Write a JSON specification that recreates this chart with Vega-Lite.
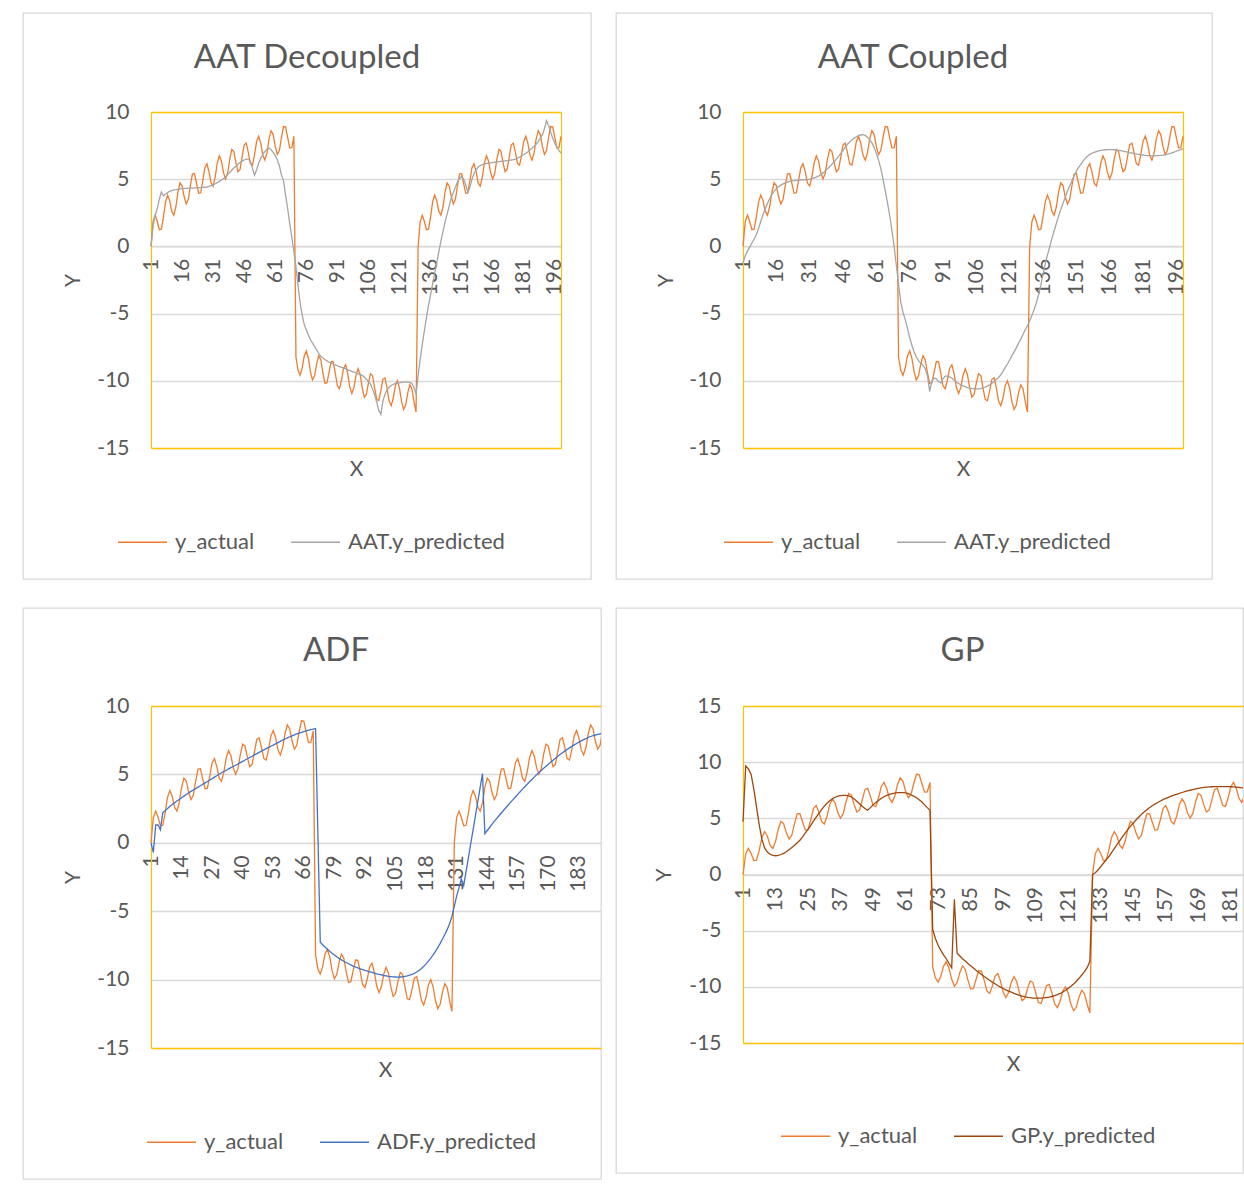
{
"$schema": "https://vega.github.io/schema/vega-lite/v6.json",
"padding": {"left": 22, "top": 12, "right": 0, "bottom": 0},
"autosize": {"type": "pad"},
"background": "white",
"config": {
  "font": "Lato",
  "view": {"stroke": "#D9D9D9", "strokeWidth": 1.3},
  "axis": {"labelFontSize": 21, "labelColor": "#595959", "labelFont": "Lato", "titleFont": "Lato", "titleFontSize": 21, "titleColor": "#595959", "titleFontWeight": "normal", "ticks": false, "tickSize": 0, "labelOverlap": false, "labelBound": false, "labelFlush": false},
  "legend": {"direction": "horizontal", "symbolType": "stroke", "symbolSize": 2401, "symbolStrokeWidth": 1.3, "labelFontSize": 22, "labelColor": "#595959", "labelFont": "Lato", "labelOffset": 7, "columnPadding": 33, "padding": 0},
  "title": {"fontSize": 33, "color": "#595959", "fontWeight": "normal", "font": "Lato", "anchor": "middle", "baseline": "middle", "offset": -62}
},
"datasets": {"s": [
{"x":1,"a":0,"d":0,"c":-1.24,"f":0,"g":4.7},
{"x":2,"a":1.84,"d":1.5,"c":-0.7,"f":-0.7,"g":9.65},
{"x":3,"a":2.32,"d":2.3,"c":-0.35,"f":1.3,"g":9.4},
{"x":4,"a":1.87,"d":2.8,"c":-0.05,"f":1.3,"g":8.9},
{"x":5,"a":1.24,"d":3.5,"c":0.25,"f":0.95,"g":7.6},
{"x":6,"a":1.28,"d":4.05,"c":0.55,"f":2.2,"g":6.0},
{"x":7,"a":2.17,"d":3.75,"c":0.87,"f":2.35,"g":4.4},
{"x":8,"a":3.30,"d":3.9,"c":1.35,"f":2.5,"g":3.1},
{"x":9,"a":3.82,"d":4.0,"c":1.85,"f":2.65,"g":2.35},
{"x":10,"a":3.41,"d":4.1,"c":2.36,"f":2.8,"g":2.0},
{"x":11,"a":2.62,"d":4.15,"c":2.8,"f":2.92,"g":1.8},
{"x":12,"a":2.32,"d":4.2,"c":3.2,"f":3.05,"g":1.7},
{"x":13,"a":2.93,"d":4.22,"c":3.55,"f":3.17,"g":1.67},
{"x":14,"a":4.03,"d":4.25,"c":3.88,"f":3.29,"g":1.7},
{"x":15,"a":4.73,"d":4.28,"c":4.1,"f":3.41,"g":1.78},
{"x":16,"a":4.52,"d":4.3,"c":4.3,"f":3.53,"g":1.88},
{"x":17,"a":3.71,"d":4.31,"c":4.45,"f":3.64,"g":2.02},
{"x":18,"a":3.16,"d":4.32,"c":4.56,"f":3.76,"g":2.21},
{"x":19,"a":3.49,"d":4.33,"c":4.65,"f":3.86,"g":2.4},
{"x":20,"a":4.51,"d":4.33,"c":4.73,"f":3.96,"g":2.6},
{"x":21,"a":5.39,"d":4.34,"c":4.79,"f":4.07,"g":2.82},
{"x":22,"a":5.42,"d":4.35,"c":4.84,"f":4.17,"g":3.05},
{"x":23,"a":4.68,"d":4.36,"c":4.88,"f":4.28,"g":3.35},
{"x":24,"a":3.95,"d":4.37,"c":4.9,"f":4.38,"g":3.7},
{"x":25,"a":3.99,"d":4.38,"c":4.92,"f":4.48,"g":4.02},
{"x":26,"a":4.87,"d":4.39,"c":4.93,"f":4.59,"g":4.38},
{"x":27,"a":5.86,"d":4.4,"c":4.94,"f":4.69,"g":4.75},
{"x":28,"a":6.15,"d":4.41,"c":4.95,"f":4.8,"g":5.1},
{"x":29,"a":5.56,"d":4.46,"c":4.96,"f":4.9,"g":5.45},
{"x":30,"a":4.72,"d":4.52,"c":4.97,"f":5.01,"g":5.78},
{"x":31,"a":4.49,"d":4.58,"c":5.0,"f":5.12,"g":6.08},
{"x":32,"a":5.16,"d":4.66,"c":5.04,"f":5.21,"g":6.35},
{"x":33,"a":6.21,"d":4.74,"c":5.1,"f":5.3,"g":6.56},
{"x":34,"a":6.74,"d":4.84,"c":5.16,"f":5.4,"g":6.74},
{"x":35,"a":6.36,"d":4.94,"c":5.23,"f":5.49,"g":6.88},
{"x":36,"a":5.49,"d":5.03,"c":5.34,"f":5.58,"g":6.98},
{"x":37,"a":5.01,"d":5.18,"c":5.47,"f":5.67,"g":7.03},
{"x":38,"a":5.44,"d":5.34,"c":5.62,"f":5.76,"g":7.05},
{"x":39,"a":6.46,"d":5.5,"c":5.77,"f":5.86,"g":7.04},
{"x":40,"a":7.21,"d":5.67,"c":5.93,"f":5.95,"g":7.0},
{"x":41,"a":7.07,"d":5.83,"c":6.1,"f":6.05,"g":6.9},
{"x":42,"a":6.24,"d":5.97,"c":6.3,"f":6.14,"g":6.72},
{"x":43,"a":5.56,"d":6.12,"c":6.5,"f":6.24,"g":6.52},
{"x":44,"a":5.73,"d":6.26,"c":6.7,"f":6.33,"g":6.3},
{"x":45,"a":6.65,"d":6.35,"c":6.93,"f":6.43,"g":6.08},
{"x":46,"a":7.56,"d":6.43,"c":7.15,"f":6.52,"g":5.88},
{"x":47,"a":7.68,"d":6.5,"c":7.38,"f":6.61,"g":5.72},
{"x":48,"a":6.98,"d":6.5,"c":7.6,"f":6.7,"g":5.95},
{"x":49,"a":6.16,"d":6.35,"c":7.78,"f":6.79,"g":6.2},
{"x":50,"a":6.05,"d":5.8,"c":7.93,"f":6.88,"g":6.4},
{"x":51,"a":6.81,"d":5.3,"c":8.06,"f":6.97,"g":6.58},
{"x":52,"a":7.81,"d":5.7,"c":8.16,"f":7.06,"g":6.76},
{"x":53,"a":8.20,"d":6.2,"c":8.24,"f":7.14,"g":6.92},
{"x":54,"a":7.68,"d":6.55,"c":8.29,"f":7.23,"g":7.04},
{"x":55,"a":6.79,"d":6.85,"c":8.31,"f":7.32,"g":7.13},
{"x":56,"a":6.42,"d":7.05,"c":8.26,"f":7.41,"g":7.2},
{"x":57,"a":6.96,"d":7.25,"c":8.13,"f":7.5,"g":7.25},
{"x":58,"a":7.99,"d":7.3,"c":7.95,"f":7.59,"g":7.28},
{"x":59,"a":8.61,"d":7.2,"c":7.7,"f":7.67,"g":7.29},
{"x":60,"a":8.32,"d":7.0,"c":7.35,"f":7.75,"g":7.28},
{"x":61,"a":7.44,"d":6.75,"c":6.95,"f":7.82,"g":7.26},
{"x":62,"a":6.84,"d":6.45,"c":6.4,"f":7.89,"g":7.2},
{"x":63,"a":7.13,"d":6.0,"c":5.8,"f":7.96,"g":7.1},
{"x":64,"a":8.10,"d":5.3,"c":5.0,"f":8.02,"g":6.98},
{"x":65,"a":8.92,"d":4.9,"c":4.15,"f":8.08,"g":6.83},
{"x":66,"a":8.89,"d":3.8,"c":3.25,"f":8.13,"g":6.65},
{"x":67,"a":8.10,"d":2.8,"c":2.3,"f":8.18,"g":6.45},
{"x":68,"a":7.33,"d":1.7,"c":1.2,"f":8.23,"g":6.2},
{"x":69,"a":7.35,"d":0.7,"c":0.0,"f":8.27,"g":5.95},
{"x":70,"a":8.19,"d":-0.4,"c":-1.4,"f":8.31,"g":5.72},
{"x":71,"a":-8.23,"d":-1.5,"c":-2.8,"f":8.35,"g":-4.9},
{"x":72,"a":-9.22,"d":-2.9,"c":-4.15,"f":0.5,"g":-5.7},
{"x":73,"a":-9.59,"d":-4.2,"c":-4.9,"f":-7.27,"g":-6.3},
{"x":74,"a":-9.05,"d":-5.1,"c":-5.45,"f":-7.45,"g":-6.75},
{"x":75,"a":-8.15,"d":-5.8,"c":-6.1,"f":-7.62,"g":-7.15},
{"x":76,"a":-7.78,"d":-6.2,"c":-6.8,"f":-7.79,"g":-7.5},
{"x":77,"a":-8.32,"d":-6.6,"c":-7.35,"f":-7.93,"g":-7.9},
{"x":78,"a":-9.33,"d":-6.95,"c":-7.85,"f":-8.07,"g":-8.3},
{"x":79,"a":-9.94,"d":-7.2,"c":-8.25,"f":-8.2,"g":-2.2},
{"x":80,"a":-9.63,"d":-7.45,"c":-8.5,"f":-8.33,"g":-7.0},
{"x":81,"a":-8.74,"d":-7.7,"c":-8.7,"f":-8.45,"g":-7.25},
{"x":82,"a":-8.14,"d":-7.95,"c":-8.85,"f":-8.56,"g":-7.5},
{"x":83,"a":-8.43,"d":-8.18,"c":-9.1,"f":-8.66,"g":-7.7},
{"x":84,"a":-9.40,"d":-8.3,"c":-9.6,"f":-8.75,"g":-7.92},
{"x":85,"a":-10.20,"d":-8.42,"c":-10.8,"f":-8.84,"g":-8.13},
{"x":86,"a":-10.15,"d":-8.52,"c":-10.0,"f":-8.93,"g":-8.33},
{"x":87,"a":-9.35,"d":-8.62,"c":-9.8,"f":-9.01,"g":-8.53},
{"x":88,"a":-8.57,"d":-8.68,"c":-9.85,"f":-9.08,"g":-8.72},
{"x":89,"a":-8.59,"d":-8.75,"c":-10.05,"f":-9.15,"g":-8.9},
{"x":90,"a":-9.43,"d":-8.82,"c":-10.17,"f":-9.21,"g":-9.08},
{"x":91,"a":-10.37,"d":-8.88,"c":-9.85,"f":-9.27,"g":-9.25},
{"x":92,"a":-10.59,"d":-8.94,"c":-9.65,"f":-9.33,"g":-9.42},
{"x":93,"a":-9.94,"d":-9.0,"c":-9.65,"f":-9.38,"g":-9.58},
{"x":94,"a":-9.06,"d":-9.06,"c":-9.7,"f":-9.43,"g":-9.73},
{"x":95,"a":-8.81,"d":-9.12,"c":-9.8,"f":-9.48,"g":-9.88},
{"x":96,"a":-9.47,"d":-9.18,"c":-9.95,"f":-9.53,"g":-10.02},
{"x":97,"a":-10.47,"d":-9.24,"c":-10.1,"f":-9.58,"g":-10.15},
{"x":98,"a":-10.95,"d":-9.3,"c":-10.2,"f":-9.62,"g":-10.27},
{"x":99,"a":-10.51,"d":-9.36,"c":-10.3,"f":-9.66,"g":-10.38},
{"x":100,"a":-9.60,"d":-9.42,"c":-10.38,"f":-9.7,"g":-10.48},
{"x":101,"a":-9.10,"d":-9.48,"c":-10.44,"f":-9.73,"g":-10.58},
{"x":102,"a":-9.53,"d":-9.53,"c":-10.5,"f":-9.76,"g":-10.67},
{"x":103,"a":-10.52,"d":-9.6,"c":-10.54,"f":-9.78,"g":-10.75},
{"x":104,"a":-11.22,"d":-9.72,"c":-10.57,"f":-9.8,"g":-10.82},
{"x":105,"a":-11.02,"d":-9.88,"c":-10.6,"f":-9.81,"g":-10.88},
{"x":106,"a":-10.16,"d":-10.05,"c":-10.6,"f":-9.82,"g":-10.93},
{"x":107,"a":-9.47,"d":-10.25,"c":-10.6,"f":-9.81,"g":-10.97},
{"x":108,"a":-9.62,"d":-10.6,"c":-10.58,"f":-9.8,"g":-11.0},
{"x":109,"a":-10.53,"d":-11.05,"c":-10.53,"f":-9.77,"g":-11.01},
{"x":110,"a":-11.40,"d":-11.6,"c":-10.46,"f":-9.73,"g":-11.01},
{"x":111,"a":-11.47,"d":-12.2,"c":-10.4,"f":-9.68,"g":-11.0},
{"x":112,"a":-10.73,"d":-12.5,"c":-10.3,"f":-9.62,"g":-10.98},
{"x":113,"a":-9.89,"d":-11.5,"c":-10.18,"f":-9.55,"g":-10.95},
{"x":114,"a":-9.78,"d":-11.0,"c":-10.05,"f":-9.45,"g":-10.91},
{"x":115,"a":-10.53,"d":-10.7,"c":-9.9,"f":-9.33,"g":-10.86},
{"x":116,"a":-11.51,"d":-10.48,"c":-9.75,"f":-9.19,"g":-10.79},
{"x":117,"a":-11.85,"d":-10.35,"c":-9.55,"f":-9.03,"g":-10.7},
{"x":118,"a":-11.28,"d":-10.26,"c":-9.3,"f":-8.85,"g":-10.59},
{"x":119,"a":-10.37,"d":-10.2,"c":-9.0,"f":-8.65,"g":-10.46},
{"x":120,"a":-10.00,"d":-10.17,"c":-8.75,"f":-8.43,"g":-10.31},
{"x":121,"a":-10.55,"d":-10.15,"c":-8.45,"f":-8.19,"g":-10.14},
{"x":122,"a":-11.55,"d":-10.12,"c":-8.15,"f":-7.93,"g":-9.95},
{"x":123,"a":-12.13,"d":-10.1,"c":-7.85,"f":-7.65,"g":-9.74},
{"x":124,"a":-11.80,"d":-10.1,"c":-7.55,"f":-7.35,"g":-9.5},
{"x":125,"a":-10.90,"d":-10.1,"c":-7.2,"f":-7.03,"g":-9.24},
{"x":126,"a":-10.30,"d":-10.12,"c":-6.9,"f":-6.69,"g":-8.95},
{"x":127,"a":-10.59,"d":-10.2,"c":-6.55,"f":-6.33,"g":-8.64},
{"x":128,"a":-11.55,"d":-10.5,"c":-6.2,"f":-5.92,"g":-8.3},
{"x":129,"a":-12.33,"d":-11.0,"c":-5.9,"f":-5.38,"g":-7.73},
{"x":130,"a":0,"d":-9.6,"c":-5.55,"f":-4.64,"g":0.0},
{"x":131,"a":1.84,"d":-8.4,"c":-5.15,"f":-3.9,"g":0.15},
{"x":132,"a":2.32,"d":-7.3,"c":-4.7,"f":-3.3,"g":0.4},
{"x":133,"a":1.87,"d":-6.3,"c":-4.2,"f":-2.65,"g":0.7},
{"x":134,"a":1.24,"d":-5.3,"c":-3.6,"f":-3.13,"g":1.0},
{"x":135,"a":1.28,"d":-4.4,"c":-2.9,"f":-2.1,"g":1.3},
{"x":136,"a":2.17,"d":-3.6,"c":-2.1,"f":-1.1,"g":1.6},
{"x":137,"a":3.30,"d":-2.8,"c":-1.3,"f":-0.05,"g":1.95},
{"x":138,"a":3.82,"d":-2.0,"c":-0.65,"f":0.95,"g":2.3},
{"x":139,"a":3.41,"d":-1.2,"c":-0.05,"f":2.0,"g":2.65},
{"x":140,"a":2.62,"d":-0.4,"c":0.6,"f":3.0,"g":3.0},
{"x":141,"a":2.32,"d":0.4,"c":1.15,"f":4.05,"g":3.35},
{"x":142,"a":2.93,"d":1.1,"c":1.7,"f":5.05,"g":3.68},
{"x":143,"a":4.03,"d":1.8,"c":2.25,"f":0.67,"g":4.0},
{"x":144,"a":4.73,"d":2.4,"c":2.75,"f":0.9,"g":4.3},
{"x":145,"a":4.52,"d":3.0,"c":3.2,"f":1.12,"g":4.58},
{"x":146,"a":3.71,"d":3.6,"c":3.65,"f":1.34,"g":4.85},
{"x":147,"a":3.16,"d":4.0,"c":4.1,"f":1.56,"g":5.1},
{"x":148,"a":3.49,"d":4.4,"c":4.5,"f":1.77,"g":5.35},
{"x":149,"a":4.51,"d":4.8,"c":4.88,"f":1.98,"g":5.57},
{"x":150,"a":5.39,"d":5.05,"c":5.25,"f":2.18,"g":5.77},
{"x":151,"a":5.42,"d":5.2,"c":5.6,"f":2.38,"g":5.95},
{"x":152,"a":4.68,"d":5.0,"c":5.88,"f":2.58,"g":6.12},
{"x":153,"a":3.95,"d":4.6,"c":6.1,"f":2.78,"g":6.27},
{"x":154,"a":3.99,"d":4.0,"c":6.35,"f":2.97,"g":6.41},
{"x":155,"a":4.87,"d":4.4,"c":6.55,"f":3.16,"g":6.54},
{"x":156,"a":5.86,"d":5.0,"c":6.7,"f":3.35,"g":6.66},
{"x":157,"a":6.15,"d":5.4,"c":6.83,"f":3.54,"g":6.77},
{"x":158,"a":5.56,"d":5.7,"c":6.93,"f":3.73,"g":6.87},
{"x":159,"a":4.72,"d":5.9,"c":7.0,"f":3.92,"g":6.97},
{"x":160,"a":4.49,"d":6.0,"c":7.06,"f":4.1,"g":7.06},
{"x":161,"a":5.16,"d":6.08,"c":7.1,"f":4.28,"g":7.14},
{"x":162,"a":6.21,"d":6.13,"c":7.14,"f":4.46,"g":7.22},
{"x":163,"a":6.74,"d":6.18,"c":7.17,"f":4.63,"g":7.3},
{"x":164,"a":6.36,"d":6.2,"c":7.19,"f":4.8,"g":7.37},
{"x":165,"a":5.49,"d":6.22,"c":7.2,"f":4.97,"g":7.44},
{"x":166,"a":5.01,"d":6.24,"c":7.2,"f":5.13,"g":7.5},
{"x":167,"a":5.44,"d":6.26,"c":7.2,"f":5.29,"g":7.56},
{"x":168,"a":6.46,"d":6.28,"c":7.19,"f":5.45,"g":7.62},
{"x":169,"a":7.21,"d":6.3,"c":7.17,"f":5.6,"g":7.67},
{"x":170,"a":7.07,"d":6.32,"c":7.15,"f":5.75,"g":7.71},
{"x":171,"a":6.24,"d":6.34,"c":7.12,"f":5.9,"g":7.75},
{"x":172,"a":5.56,"d":6.36,"c":7.09,"f":6.04,"g":7.78},
{"x":173,"a":5.73,"d":6.38,"c":7.06,"f":6.18,"g":7.8},
{"x":174,"a":6.65,"d":6.4,"c":7.02,"f":6.32,"g":7.81},
{"x":175,"a":7.56,"d":6.43,"c":6.98,"f":6.45,"g":7.82},
{"x":176,"a":7.68,"d":6.45,"c":6.95,"f":6.58,"g":7.83},
{"x":177,"a":6.98,"d":6.5,"c":6.91,"f":6.7,"g":7.83},
{"x":178,"a":6.16,"d":6.57,"c":6.88,"f":6.82,"g":7.83},
{"x":179,"a":6.05,"d":6.65,"c":6.85,"f":6.94,"g":7.83},
{"x":180,"a":6.81,"d":6.73,"c":6.82,"f":7.05,"g":7.82},
{"x":181,"a":7.81,"d":6.82,"c":6.8,"f":7.16,"g":7.81},
{"x":182,"a":8.20,"d":6.92,"c":6.78,"f":7.26,"g":7.8},
{"x":183,"a":7.68,"d":7.04,"c":6.76,"f":7.36,"g":7.78},
{"x":184,"a":6.79,"d":7.17,"c":6.75,"f":7.45,"g":7.75},
{"x":185,"a":6.42,"d":7.3,"c":6.74,"f":7.54,"g":7.72},
{"x":186,"a":6.96,"d":7.44,"c":6.74,"f":7.62,"g":7.69},
{"x":187,"a":7.99,"d":7.6,"c":6.75,"f":7.7,"g":7.65},
{"x":188,"a":8.61,"d":7.8,"c":6.76,"f":7.77,"g":7.6},
{"x":189,"a":8.32,"d":8.05,"c":6.77,"f":7.83,"g":7.55},
{"x":190,"a":7.44,"d":8.3,"c":6.79,"f":7.88,"g":7.5},
{"x":191,"a":6.84,"d":8.75,"c":6.82,"f":7.92,"g":7.44},
{"x":192,"a":7.13,"d":9.35,"c":6.86,"f":7.96,"g":7.38},
{"x":193,"a":8.10,"d":9.0,"c":6.9,"f":7.99,"g":7.31},
{"x":194,"a":8.92,"d":8.5,"c":6.96,"f":8.02,"g":7.24},
{"x":195,"a":8.89,"d":8.05,"c":7.02,"f":8.05,"g":7.16},
{"x":196,"a":8.10,"d":7.7,"c":7.08,"f":8.07,"g":7.08},
{"x":197,"a":7.33,"d":7.4,"c":7.14,"f":8.09,"g":7.0},
{"x":198,"a":7.35,"d":7.15,"c":7.2,"f":8.1,"g":6.9},
{"x":199,"a":8.19,"d":6.94,"c":7.27,"f":8.11,"g":6.8}
]},
"spacing": 27,
"resolve": {"scale": {"color": "independent"}},
"vconcat": [
{
"spacing": 25,
"bounds": "flush",
"resolve": {"scale": {"color": "independent"}},
"hconcat": [
{
  "width": 568, "height": 566,
  "title": {"text": "AAT Decoupled"},
  "data": {"name": "s"},
  "resolve": {"axis": {"y": "independent"}},
  "encoding": {"x": {"field": "x", "type": "quantitative",
    "scale": {"domain": [1, 199], "range": [128, 538], "nice": false, "zero": false},
    "axis": {"orient": "bottom", "offset": -332.6, "values": [1,16,31,46,61,76,91,106,121,136,151,166,181,196], "format": "d", "labelAngle": 270, "labelPadding": 12, "domainColor": "#D9D9D9", "domainWidth": 1.3, "grid": false, "title": "X", "titleX": 333, "titleY": 222.6, "titleAlign": "center", "titleBaseline": "middle", "titleAngle": 0}}},
  "layer": [
    {"mark": {"type": "line", "strokeWidth": 1.3, "clip": true},
     "encoding": {
       "y": {"field": "a", "type": "quantitative", "scale": {"domain": [-15, 10], "range": [435, 99], "nice": false, "zero": false},
         "axis": {"orient": "left", "offset": -128, "values": [-15,-10,-5,0,5,10], "labelExpr": "datum.value < 0 ? '-' + abs(datum.value) : '' + datum.value", "labelPadding": 22, "domain": true, "domainColor": "#FFC000", "domainWidth": 1.2, "grid": true, "gridWidth": 1.3, "gridColor": {"condition": {"test": "datum.value == 10 || datum.value == -15", "value": "#FFC000"}, "value": "#D9D9D9"}, "title": "Y", "titleX": -78, "titleY": 267, "titleAngle": 270, "titleAlign": "center", "titleBaseline": "middle"}},
       "color": {"datum": "y_actual", "scale": {"domain": ["y_actual", "AAT.y_predicted"], "range": ["#ED7D31", "#A5A5A5"]},
         "legend": {"orient": "none", "legendX": 94, "legendY": 503.5, "title": null}}}},
    {"mark": {"type": "line", "strokeWidth": 1.3, "clip": true},
     "encoding": {
       "y": {"field": "d", "type": "quantitative", "axis": {"orient": "right", "offset": -30, "labels": false, "grid": false, "domain": true, "domainColor": "#FFC000", "domainWidth": 1.2, "title": null}},
       "color": {"datum": "AAT.y_predicted"}}}
  ]
},
{
  "width": 596, "height": 566,
  "title": {"text": "AAT Coupled", "dx": -1},
  "data": {"name": "s"},
  "resolve": {"axis": {"y": "independent"}},
  "encoding": {"x": {"field": "x", "type": "quantitative",
    "scale": {"domain": [1, 199], "range": [127, 567], "nice": false, "zero": false},
    "axis": {"orient": "bottom", "offset": -332.6, "values": [1,16,31,46,61,76,91,106,121,136,151,166,181,196], "format": "d", "labelAngle": 270, "labelPadding": 12, "domainColor": "#D9D9D9", "domainWidth": 1.3, "grid": false, "title": "X", "titleX": 347, "titleY": 222.6, "titleAlign": "center", "titleBaseline": "middle", "titleAngle": 0}}},
  "layer": [
    {"mark": {"type": "line", "strokeWidth": 1.3, "clip": true},
     "encoding": {
       "y": {"field": "a", "type": "quantitative", "scale": {"domain": [-15, 10], "range": [435, 99], "nice": false, "zero": false},
         "axis": {"orient": "left", "offset": -127, "values": [-15,-10,-5,0,5,10], "labelExpr": "datum.value < 0 ? '-' + abs(datum.value) : '' + datum.value", "labelPadding": 22, "domain": true, "domainColor": "#FFC000", "domainWidth": 1.2, "grid": true, "gridWidth": 1.3, "gridColor": {"condition": {"test": "datum.value == 10 || datum.value == -15", "value": "#FFC000"}, "value": "#D9D9D9"}, "title": "Y", "titleX": -77, "titleY": 267, "titleAngle": 270, "titleAlign": "center", "titleBaseline": "middle"}},
       "color": {"datum": "y_actual", "scale": {"domain": ["y_actual", "AAT.y_predicted"], "range": ["#ED7D31", "#A5A5A5"]},
         "legend": {"orient": "none", "legendX": 107, "legendY": 503.5, "title": null}}}},
    {"mark": {"type": "line", "strokeWidth": 1.3, "clip": true},
     "encoding": {
       "y": {"field": "c", "type": "quantitative", "axis": {"orient": "right", "offset": -29, "labels": false, "grid": false, "domain": true, "domainColor": "#FFC000", "domainWidth": 1.2, "title": null}},
       "color": {"datum": "AAT.y_predicted"}}}
  ]
}
]
},
{
"spacing": 15,
"bounds": "flush",
"resolve": {"scale": {"color": "independent"}},
"hconcat": [
{
  "width": 578, "height": 571,
  "title": {"text": "ADF", "dx": 24, "offset": -60},
  "data": {"name": "s"},
  "resolve": {"axis": {"y": "independent"}},
  "encoding": {"x": {"field": "x", "type": "quantitative",
    "scale": {"domain": [1, 192.4], "range": [128, 578], "nice": false, "zero": false},
    "axis": {"orient": "bottom", "offset": -336.2, "values": [1,14,27,40,53,66,79,92,105,118,131,144,157,170,183], "format": "d", "labelAngle": 270, "labelPadding": 12, "domainColor": "#D9D9D9", "domainWidth": 1.3, "grid": false, "title": "X", "titleX": 362, "titleY": 227.2, "titleAlign": "center", "titleBaseline": "middle", "titleAngle": 0}}},
  "layer": [
    {"mark": {"type": "line", "strokeWidth": 1.3, "clip": true},
     "encoding": {
       "y": {"field": "a", "type": "quantitative", "scale": {"domain": [-15, 10], "range": [440, 98], "nice": false, "zero": false},
         "axis": {"orient": "left", "offset": -128, "values": [-15,-10,-5,0,5,10], "labelExpr": "datum.value < 0 ? '-' + abs(datum.value) : '' + datum.value", "labelPadding": 22, "domain": true, "domainColor": "#FFC000", "domainWidth": 1.2, "grid": true, "gridWidth": 1.3, "gridColor": {"condition": {"test": "datum.value == 10 || datum.value == -15", "value": "#FFC000"}, "value": "#D9D9D9"}, "title": "Y", "titleX": -78, "titleY": 269, "titleAngle": 270, "titleAlign": "center", "titleBaseline": "middle"}},
       "color": {"datum": "y_actual", "scale": {"domain": ["y_actual", "ADF.y_predicted"], "range": ["#ED7D31", "#4472C4"]},
         "legend": {"orient": "none", "legendX": 123, "legendY": 508.5, "title": null}}}},
    {"mark": {"type": "line", "strokeWidth": 1.3, "clip": true},
     "encoding": {
       "y": {"field": "f", "type": "quantitative", "axis": null},
       "color": {"datum": "ADF.y_predicted"}}}
  ]
},
{
  "width": 627, "height": 565,
  "title": {"text": "GP", "dx": 33, "offset": -60},
  "data": {"name": "s"},
  "resolve": {"axis": {"y": "independent"}},
  "encoding": {"x": {"field": "x", "type": "quantitative",
    "scale": {"domain": [1, 185.5], "range": [127, 627], "nice": false, "zero": false},
    "axis": {"orient": "bottom", "offset": -298.5, "values": [1,13,25,37,49,61,73,85,97,109,121,133,145,157,169,181], "format": "d", "labelAngle": 270, "labelPadding": 12, "domainColor": "#D9D9D9", "domainWidth": 1.3, "grid": false, "title": "X", "titleX": 397, "titleY": 189.5, "titleAlign": "center", "titleBaseline": "middle", "titleAngle": 0}}},
  "layer": [
    {"mark": {"type": "line", "strokeWidth": 1.3, "clip": true},
     "encoding": {
       "y": {"field": "a", "type": "quantitative", "scale": {"domain": [-15, 15], "range": [435, 98], "nice": false, "zero": false},
         "axis": {"orient": "left", "offset": -127, "values": [-15,-10,-5,0,5,10,15], "labelExpr": "datum.value < 0 ? '-' + abs(datum.value) : '' + datum.value", "labelPadding": 22, "domain": true, "domainColor": "#FFC000", "domainWidth": 1.2, "grid": true, "gridWidth": 1.3, "gridColor": {"condition": {"test": "datum.value == 15 || datum.value == -15", "value": "#FFC000"}, "value": "#D9D9D9"}, "title": "Y", "titleX": -79, "titleY": 266.5, "titleAngle": 270, "titleAlign": "center", "titleBaseline": "middle"}},
       "color": {"datum": "y_actual", "scale": {"domain": ["y_actual", "GP.y_predicted"], "range": ["#ED7D31", "#9E480E"]},
         "legend": {"orient": "none", "legendX": 164, "legendY": 502.5, "title": null}}}},
    {"mark": {"type": "line", "strokeWidth": 1.3, "clip": true},
     "encoding": {
       "y": {"field": "g", "type": "quantitative", "axis": null},
       "color": {"datum": "GP.y_predicted"}}}
  ]
}
]
}
]
}
